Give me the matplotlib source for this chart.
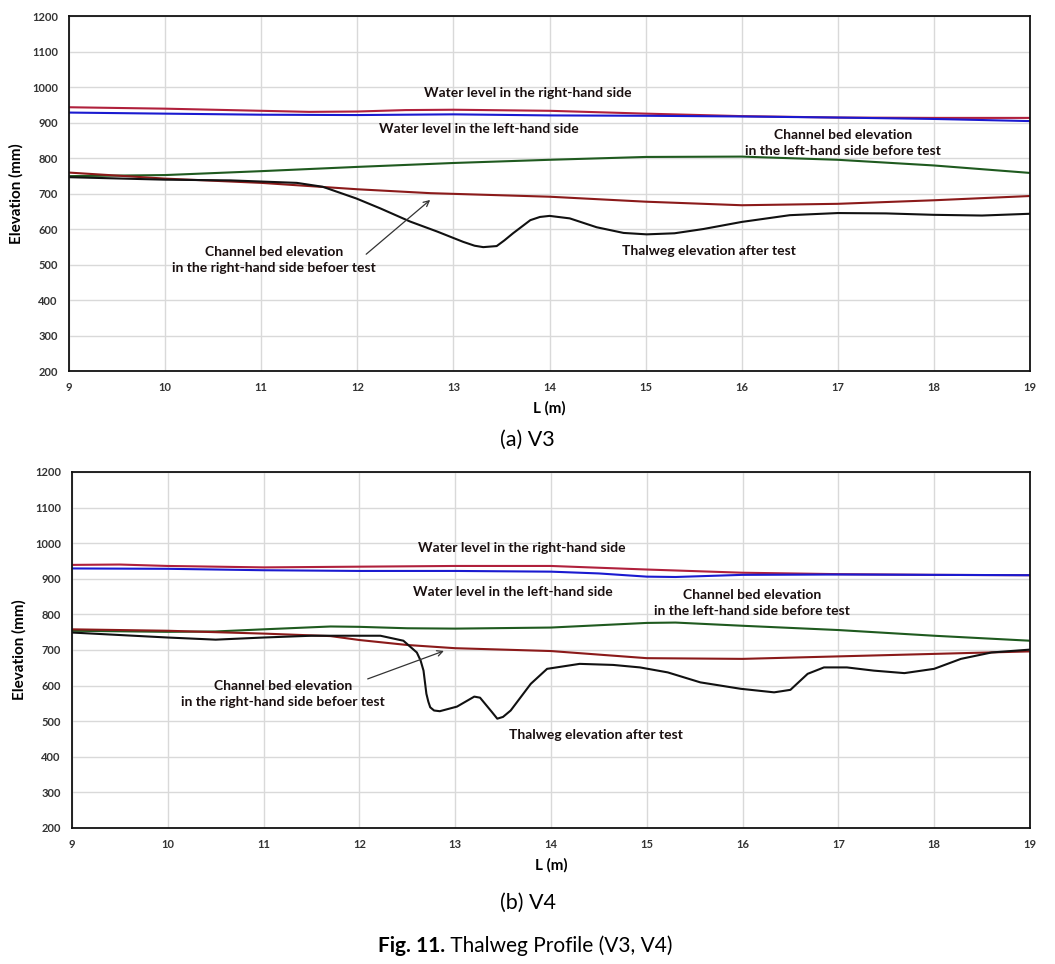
import matplotlib
matplotlib.use("Agg")
import matplotlib.pyplot as plt

# ──────────────────────────────────────────────
#  Data
# ──────────────────────────────────────────────

# (a) V3
v3_wr_x = [9, 10, 11, 11.5, 12, 12.5, 13, 14, 15, 16, 17, 18, 19]
v3_wr_y = [943, 939, 933, 930, 931, 935, 936, 933, 925, 918, 914, 913, 913]

v3_wl_x = [9, 10, 11, 12, 13, 14, 15, 16, 17, 18, 19]
v3_wl_y = [928, 925, 922, 921, 923, 920, 919, 917, 914, 910, 904]

v3_left_x = [9, 10, 11, 12, 13, 14, 15, 16, 17, 18, 19]
v3_left_y = [749, 752, 763, 775, 786, 795, 803, 804, 795, 779, 758]

v3_right_x = [9, 10, 11, 12, 12.76, 14, 15, 16, 17, 18, 19]
v3_right_y = [759, 742, 730, 712, 701, 691, 677, 667, 671, 681, 693]

v3_thal_x = [9, 10, 10.68, 11.37, 11.64, 11.99, 12.24, 12.55, 12.83, 13.10, 13.22,
             13.31, 13.45, 13.53, 13.62, 13.80, 13.90, 14.0, 14.21, 14.49, 14.77,
             15.01, 15.3, 15.6, 16, 16.5, 17, 17.5, 18, 18.5, 19]
v3_thal_y = [746, 739, 737, 730, 719, 686, 658, 621, 593, 564, 553,
             549, 552, 568, 588, 625, 634, 637, 630, 605, 589,
             585, 588, 600, 620, 639, 645, 644, 640, 638, 643]

# (b) V4
v4_wr_x = [9, 9.5, 10, 11, 12, 13, 14, 15, 16, 17, 18, 19]
v4_wr_y = [939, 940, 936, 932, 934, 936, 936, 926, 917, 913, 911, 910]

v4_wl_x = [9, 10, 11, 12, 13, 14, 14.5, 15, 15.3, 16, 17, 18, 19]
v4_wl_y = [929, 928, 924, 922, 922, 920, 915, 906, 905, 911, 912, 911, 910]

v4_left_x = [9, 10, 10.5, 11, 11.7, 12, 12.5, 13, 14, 15, 15.3, 16, 17, 18, 19]
v4_left_y = [754, 751, 752, 758, 766, 765, 761, 760, 763, 776, 777, 768, 756, 740, 726]

v4_right_x = [9, 10, 11, 11.7, 12, 12.5, 13, 14, 15, 16, 17, 18, 19]
v4_right_y = [758, 754, 746, 739, 728, 714, 705, 697, 677, 675, 682, 689, 696]

v4_thal_x = [9, 10, 10.5, 11, 11.5, 11.71, 12.22, 12.46, 12.60, 12.64, 12.67, 12.70,
             12.72, 12.74, 12.78, 12.84, 13.02, 13.20, 13.26, 13.30, 13.38, 13.44,
             13.50, 13.58, 13.79, 13.96, 14.30, 14.65, 14.93, 15.22, 15.56, 15.98,
             16.33, 16.50, 16.68, 16.85, 17.09, 17.37, 17.69, 18.0, 18.28, 18.60, 19.0]
v4_thal_y = [749, 735, 729, 735, 740, 740, 740, 726, 693, 670, 642, 577,
             555, 539, 530, 528, 541, 569, 566, 553, 527, 507,
             512, 530, 605, 647, 661, 658, 651, 637, 609, 591,
             581, 588, 633, 651, 651, 642, 635, 647, 675, 693, 701]

x_ticks = list(range(9, 20))
y_ticks = list(range(200, 1201, 100))

# ──────────────────────────────────────────────
#  Style
# ──────────────────────────────────────────────

C_WR = "#b0203c"
C_WL = "#1a1ad0"
C_LEFT = "#1f5a1f"
C_RIGHT = "#8b1a1a"
C_THAL = "#111111"
TXT = "#1a1010"
FONT = ["Lato", "DejaVu Sans"]
CAP_FONT = ["Liberation Sans Narrow", "Lato", "DejaVu Sans"]


def draw_panel(ax, series, notes, arrow):
    for xs, ys, c in series:
        ax.plot(xs, ys, color=c, lw=1.5, solid_joinstyle="round", solid_capstyle="round")
    ax.set_xlim(9, 19)
    ax.set_ylim(200, 1200)
    ax.set_xticks(x_ticks)
    ax.set_yticks(y_ticks)
    ax.grid(True, color="#d9d9d9", lw=1)
    ax.set_axisbelow(True)
    ax.tick_params(length=0, labelsize=8, pad=8, colors="#333333")
    for lab in ax.get_xticklabels() + ax.get_yticklabels():
        lab.set_family(FONT)
        lab.set_fontweight("bold")
    for s in ax.spines.values():
        s.set_linewidth(1.3)
        s.set_color("#111111")
    ax.set_ylabel("Elevation (mm)", family=FONT, fontweight="bold", fontsize=11, labelpad=6)
    ax.set_xlabel("L (m)", family=FONT, fontweight="bold", fontsize=11, labelpad=6)
    for x, y, txt in notes:
        ax.text(x, y, txt, ha="center", va="center", family=FONT, fontweight="bold",
                fontsize=10, color=TXT, linespacing=1.35)
    (x0, y0), (x1, y1) = arrow
    ax.annotate("", xy=(x1, y1), xytext=(x0, y0),
                arrowprops=dict(arrowstyle="->", color="#333333", lw=0.9))


fig = plt.figure(figsize=(10.55, 9.64), dpi=100)

# ── (a) V3 ──
ax1 = fig.add_axes([0.0654, 0.6151, 0.911, 0.3683])
draw_panel(
    ax1,
    [(v3_wr_x, v3_wr_y, C_WR), (v3_wl_x, v3_wl_y, C_WL), (v3_left_x, v3_left_y, C_LEFT),
     (v3_right_x, v3_right_y, C_RIGHT), (v3_thal_x, v3_thal_y, C_THAL)],
    [(13.77, 982, "Water level in the right-hand side"),
     (13.26, 882, "Water level in the left-hand side"),
     (17.05, 842, "Channel bed elevation\nin the left-hand side before test"),
     (11.13, 513, "Channel bed elevation\nin the right-hand side befoer test"),
     (15.66, 538, "Thalweg elevation after test")],
    ((12.07, 524), (12.78, 687)),
)

# ── (b) V4 ──
ax2 = fig.add_axes([0.0682, 0.1411, 0.908, 0.3693])
draw_panel(
    ax2,
    [(v4_wr_x, v4_wr_y, C_WR), (v4_wl_x, v4_wl_y, C_WL), (v4_left_x, v4_left_y, C_LEFT),
     (v4_right_x, v4_right_y, C_RIGHT), (v4_thal_x, v4_thal_y, C_THAL)],
    [(13.7, 987, "Water level in the right-hand side"),
     (13.6, 863, "Water level in the left-hand side"),
     (16.1, 832, "Channel bed elevation\nin the left-hand side before test"),
     (11.2, 576, "Channel bed elevation\nin the right-hand side befoer test"),
     (14.47, 461, "Thalweg elevation after test")],
    ((12.06, 616), (12.91, 700)),
)

# ── captions ──
fig.text(0.5, 1 - 440 / 964, "(a) V3", ha="center", va="center", family=CAP_FONT, fontsize=15.5)
fig.text(0.5, 1 - 903 / 964, "(b) V4", ha="center", va="center", family=CAP_FONT, fontsize=15.5)
fig.text(0.422, 1 - 946 / 964, "Fig. 11.", ha="right", va="center",
         family=CAP_FONT, fontsize=15, fontweight="bold")
fig.text(0.422, 1 - 946 / 964, " Thalweg Profile (V3, V4)", ha="left", va="center",
         family=CAP_FONT, fontsize=15)

fig.savefig("out.png", dpi=100)
